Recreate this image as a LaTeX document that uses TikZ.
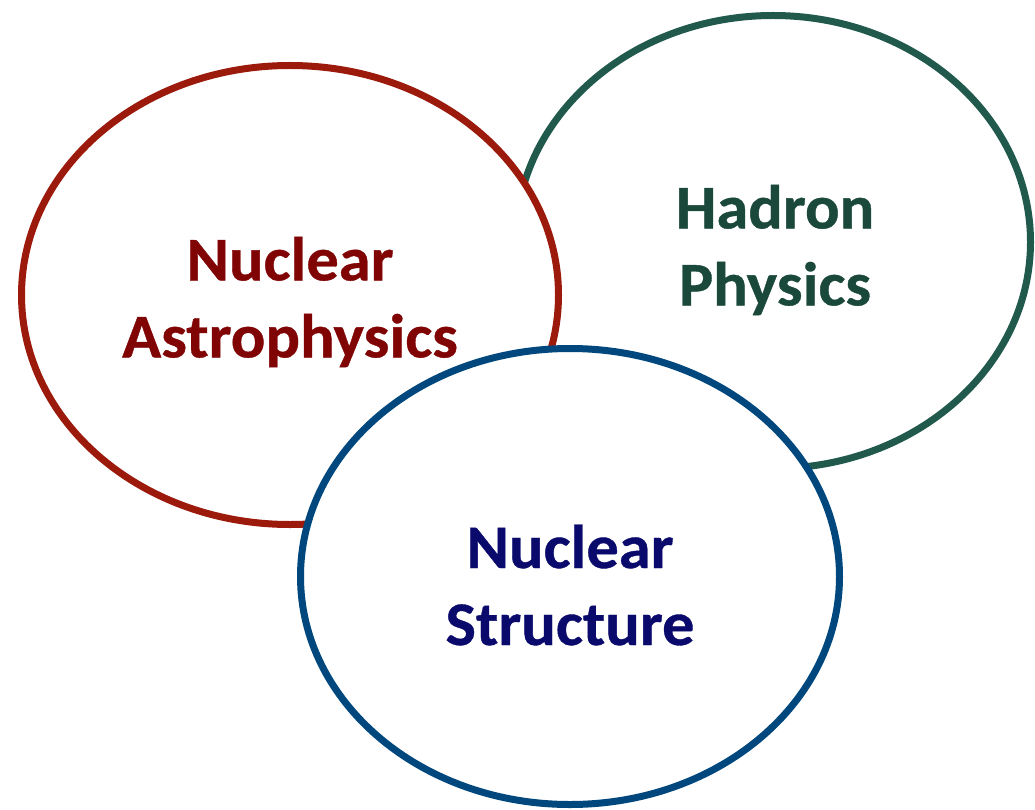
\documentclass[tikz,border=0pt]{standalone}
\usepackage{fontspec}
\setmainfont{Carlito}[FakeStretch=1.04,FakeBold=0.6]
\usetikzlibrary{shapes.geometric}
\definecolor{redline}{RGB}{155,26,12}
\definecolor{redtext}{RGB}{128,4,4}
\definecolor{greenline}{RGB}{33,90,77}
\definecolor{greentext}{RGB}{26,72,58}
\definecolor{blueline}{RGB}{0,71,125}
\definecolor{bluetext}{RGB}{10,10,108}
\tikzset{
  oval/.style={ellipse, draw=#1, line width=7pt, fill=white, inner sep=0pt},
  label text/.style={text=#1, font=\fontsize{62}{77}\selectfont\bfseries, align=center, inner sep=0pt}
}
\begin{document}
\begin{tikzpicture}[x=1pt,y=-1pt]
\useasboundingbox (0,0) rectangle (1035,810);
\node[oval=greenline, minimum width=515pt, minimum height=453pt] (had) at (773,242) {};
\node[oval=redline, minimum width=537pt, minimum height=459pt] (astro) at (290,295) {};
\node[oval=blueline, minimum width=539pt, minimum height=456pt] (struct) at (570,576.5) {};
\node[label text=greentext] (hadt) at (775,250) {Hadron\\Physics};
\node[label text=redtext] (astrot) at (290,302) {Nuclear\\Astrophysics};
\node[label text=bluetext] (structt) at (570,585) {Nuclear\\Structure};
\end{tikzpicture}
\end{document}
